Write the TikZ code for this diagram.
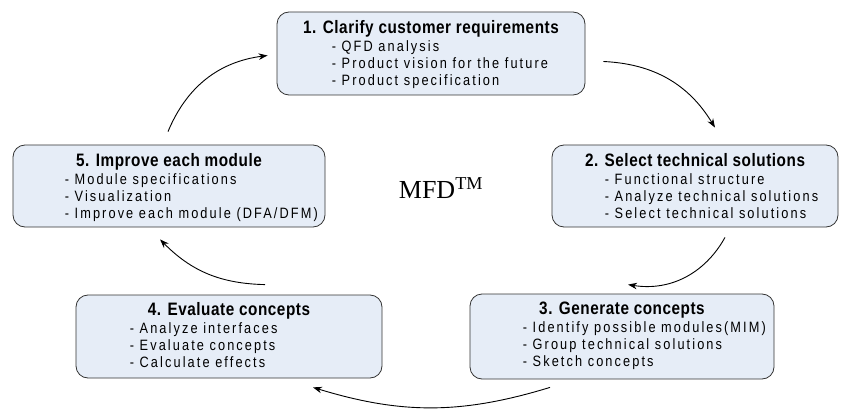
\documentclass[tikz,border=0pt]{standalone}
\usepackage{fontspec}
\setmainfont{Liberation Serif}
\newfontfamily\itemfont[FakeStretch=0.85,LetterSpace=14]{Liberation Sans}
\newfontfamily\headfont[FakeStretch=0.85,LetterSpace=3]{Liberation Sans}
\usepackage{tikz}
\usetikzlibrary{arrows.meta,positioning}
\definecolor{boxfill}{RGB}{230,237,247}

\tikzset{
  stage/.style={draw=black!80, line width=0.8pt, rounded corners=12pt, fill=boxfill, inner sep=0pt},
  head/.style={font=\headfont\bfseries\fontsize{18}{20}\selectfont, inner sep=0pt, text height=13pt, text depth=4pt},
  items/.style={font=\itemfont\fontsize{15}{17}\selectfont, align=left, inner sep=0pt, anchor=north west},
  flow/.style={->, line width=0.9pt}
}

\begin{document}
\begin{tikzpicture}[x=1pt, y=-1pt, >={Stealth[length=9pt,width=6.5pt]}]
  \useasboundingbox (0,0) rectangle (846,409);

  % the five stages
  \node[stage, minimum width=308pt, minimum height=83pt] (b1) at (431,53.5) {};
  \node[stage, minimum width=286pt, minimum height=82pt] (b2) at (695,186) {};
  \node[stage, minimum width=304pt, minimum height=85pt] (b3) at (622,336.5) {};
  \node[stage, minimum width=306pt, minimum height=83pt] (b4) at (229,336.5) {};
  \node[stage, minimum width=312pt, minimum height=82pt] (b5) at (169,186) {};

  % headings
  \node[head] (t1) at ([shift={(0,17)}]b1.north) {1. Clarify customer requirements};
  \node[head] (t2) at ([shift={(0,17)}]b2.north) {2. Select technical solutions};
  \node[head] (t3) at ([shift={(0,16)}]b3.north) {3. Generate concepts};
  \node[head] (t4) at ([shift={(0,16)}]b4.north) {4. Evaluate concepts};
  \node[head] (t5) at ([shift={(0,17)}]b5.north) {5. Improve each module};

  % lists
  \node[items] (l1) at ([shift={(55,29)}]b1.north west) {- QFD analysis\\- Product vision for the future\\- Product specification};
  \node[items] (l2) at ([shift={(53,29)}]b2.north west) {- Functional structure\\- Analyze technical solutions\\- Select technical solutions};
  \node[items] (l3) at ([shift={(53,28)}]b3.north west) {- Identify possible modules(MIM)\\- Group technical solutions\\- Sketch concepts};
  \node[items] (l4) at ([shift={(54,28)}]b4.north west) {- Analyze interfaces\\- Evaluate concepts\\- Calculate effects};
  \node[items] (l5) at ([shift={(52,29)}]b5.north west) {- Module specifications\\- Visualization\\- Improve each module (DFA/DFM)};

  \node[font=\fontsize{26}{28}\selectfont] (mfd) at (441,188) {MFD\textsuperscript{TM}};

  % ends of the arrows
  \coordinate (s1) at ([shift={(18,8)}]b1.east);
  \coordinate (e1) at ([shift={(20,-17)}]b2.north);
  \coordinate (s2) at ([shift={(30,10)}]b2.south);
  \coordinate (e2) at ([shift={(6,-9)}]b3.north);
  \coordinate (s3) at ([shift={(-72,8)}]b3.south);
  \coordinate (e3) at ([shift={(84,9)}]b4.south);
  \coordinate (s4) at ([shift={(36,-10)}]b4.north);
  \coordinate (e4) at ([shift={(-9,12)}]b5.south);
  \coordinate (s5) at ([shift={(-1,-13)}]b5.north);
  \coordinate (e5) at ([shift={(-9,2)}]b1.west);

  \draw[flow] (s1) to[bend left=28] (e1);
  \draw[flow] (s2) to[bend left=35] (e2);
  \draw[flow] (s3) to[bend left=17] (e3);
  \draw[flow] (s4) to[bend left=22] (e4);
  \draw[flow] (s5) to[bend left=30] (e5);

\end{tikzpicture}
\end{document}
